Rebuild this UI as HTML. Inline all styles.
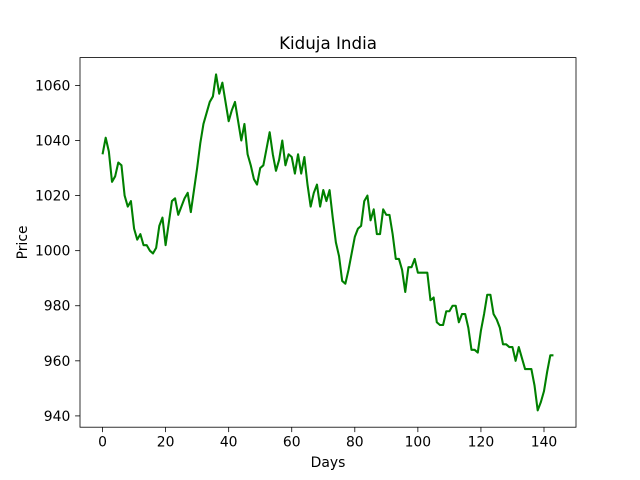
<!DOCTYPE html>
<html><head><meta charset="utf-8"><style>
body{margin:0;background:#fff}
svg{display:block;font-family:"DejaVu Sans","Liberation Sans",sans-serif}
</style></head><body>
<svg id="chart" width="640" height="480"></svg>
<script>
const days = Array.from({length:144},(_,i)=>i);
const prices = [1035,1041,1036,1025,1027,1032,1031,1020,1016,1018,1008,1004,1006,1002,1002,1000,999,1001,1009,1012,1002,1010,1018,1019,1013,1016,1019,1021,1014,1022,1030,1039,1046,1050,1054,1056,1064,1057,1061,1054,1047,1051,1054,1047,1040,1046,1035,1031,1026,1024,1030,1031,1037,1043,1035,1029,1033,1040,1031,1035,1034,1028,1035,1028,1034,1024,1016,1021,1024,1016,1022,1018,1022,1012,1003,998,989,988,993,999,1005,1008,1009,1018,1020,1011,1015,1006,1006,1015,1013,1013,1006,997,997,993,985,994,994,997,992,992,992,992,982,983,974,973,973,978,978,980,980,974,977,977,972,964,964,963,971,977,984,984,977,975,972,966,966,965,965,960,965,961,957,957,957,951,942,945,949,956,962,962];
const xTicks = [0,20,40,60,80,100,120,140];
const yTicks = [940,960,980,1000,1020,1040,1060];

const NS="http://www.w3.org/2000/svg";
const svg=document.getElementById('chart');
const L=80,R=576,T=57.6,B=427.2;
const xmin=Math.min(...days),xmax=Math.max(...days),xm=(xmax-xmin)*0.05;
const ymin=Math.min(...prices),ymax=Math.max(...prices),ym=(ymax-ymin)*0.05;
const X=v=>L+(v-(xmin-xm))/((xmax+xm)-(xmin-xm))*(R-L);
const Y=v=>B-(v-(ymin-ym))/((ymax+ym)-(ymin-ym))*(B-T);
function el(tag,attrs,text){const e=document.createElementNS(NS,tag);for(const k in attrs)e.setAttribute(k,attrs[k]);if(text!==undefined)e.textContent=text;svg.appendChild(e);return e;}

let d=days.map((x,i)=>(i?'L':'M')+X(x).toFixed(2)+' '+Y(prices[i]).toFixed(2)).join(' ');
const line=el('path',{d:d,fill:'none',stroke:'#008000','stroke-width':2.08,'stroke-linejoin':'round'});



const frame=el('rect',{x:L,y:T,width:R-L,height:B-T,fill:'none',stroke:'#000','stroke-width':0.8});



xTicks.forEach(t=>{
  const tk=el('line',{x1:X(t),x2:X(t),y1:B,y2:B+4.9,stroke:'#000','stroke-width':0.8});
  
  
  const lb=el('text',{x:X(t),y:B+19.5,'text-anchor':'middle','font-size':13.9},String(t));
  
  
});
yTicks.forEach(t=>{
  const tk=el('line',{x1:L-4.9,x2:L,y1:Y(t),y2:Y(t),stroke:'#000','stroke-width':0.8});
  
  
  const lb=el('text',{x:L-9.7,y:Y(t)+5,'text-anchor':'end','font-size':13.9},String(t));
  
  
});
const title=el('text',{x:(L+R)/2,y:49,'text-anchor':'middle','font-size':16.7},'Kiduja India');


const xl=el('text',{x:(L+R)/2,y:467,'text-anchor':'middle','font-size':13.9},'Days');


const yl=el('text',{x:0,y:0,'text-anchor':'middle','font-size':13.9,transform:'translate(27,'+((T+B)/2)+') rotate(-90)'},'Price');


</script>
</body></html>
